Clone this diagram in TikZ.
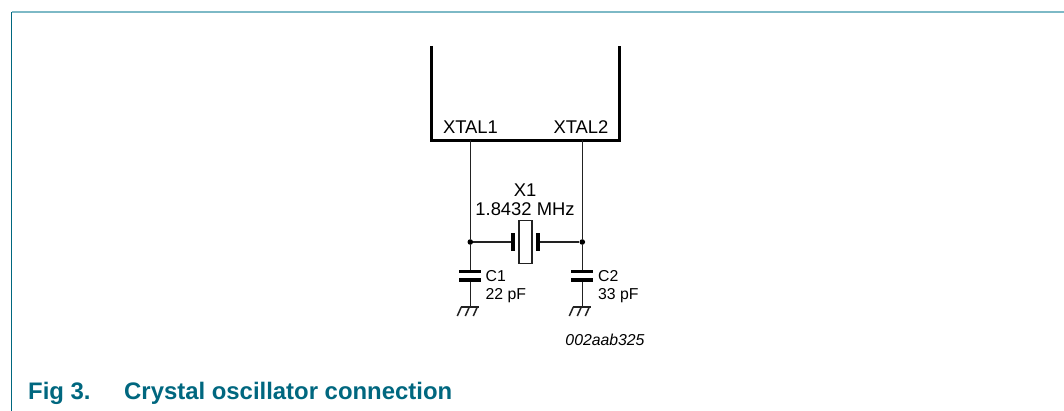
\documentclass[tikz,border=0pt]{standalone}
\usepackage{fontspec}
\setmainfont{Liberation Sans}
\usepackage{tikz}
\usetikzlibrary{positioning}
\usetikzlibrary{calc}
\definecolor{figteal}{HTML}{00677F}
\definecolor{figtop}{HTML}{7DB9C6}
\definecolor{wirecol}{HTML}{222222}
\tikzset{
  wire/.style={draw=wirecol, line width=1.5pt},
  dot/.style={circle, fill=black, inner sep=0pt, minimum size=5.6pt},
  plate/.style={rectangle, fill=black, inner sep=0pt, minimum width=4pt, minimum height=18pt},
  capplate/.style={rectangle, fill=black, inner sep=0pt, minimum width=22pt, minimum height=3.4pt},
  pin/.style={font=\fontsize{18.4}{18.5}\selectfont, inner sep=0pt},
  small/.style={font=\fontsize{15.8}{18.5}\selectfont, inner sep=0pt, align=left, anchor=west},
}
\begin{document}
\begin{tikzpicture}[x=1pt, y=-1pt]
  \useasboundingbox (0,0) rectangle (1064,411);

  % frame
  \coordinate (fl) at (11.5,12.5);
  \coordinate (fb) at (11.5,411);
  \coordinate (fr) at (1064,12.5);
  \draw[figtop, line width=2pt] (fl) -- (fr);
  \draw[figteal, line width=1.6pt] (fl) -- (fb);

  % chip outline
  \coordinate (tl) at (431.5,46);
  \coordinate (bl) at (431.5,140.5);
  \coordinate (br) at (619.5,140.5);
  \coordinate (tr) at (619.5,46);
  \draw[black, line width=2.4pt] (tl) -- (bl) -- (br) -- (tr);

  \coordinate (p1) at (470.3,140.5);
  \coordinate (p2) at (582.3,140.5);
  \node[pin] (xtal1) at (470.5,127.5) {XTAL1};
  \node[pin] (xtal2) at (581,127.5) {XTAL2};

  % crystal
  \node[dot] (j1) at (470.3,242) {};
  \node[dot] (j2) at (582.3,242) {};
  \node[draw, rectangle, wirecol, line width=1.2pt, inner sep=0pt, minimum width=13pt, minimum height=43pt] (x1) at (525.5,242) {};
  \node[plate] (pl) at (513,242) {};
  \node[plate] (pr) at (538,242) {};
  \node[pin, align=center, below=0pt] (x1lab) at (525,184) {X1\\1.8432 MHz};

  % capacitors
  \node[capplate] (c1a) at (470.3,271.5) {};
  \node[capplate] (c1b) at (470.3,280) {};
  \node[capplate] (c2a) at (582.3,271.5) {};
  \node[capplate] (c2b) at (582.3,280) {};
  \node[small] (c1lab) at (485.5,286.5) {C1\\22 pF};
  \node[small] (c2lab) at (598,286.5) {C2\\33 pF};

  % grounds
  \coordinate (g1) at (470.3,307);
  \coordinate (g2) at (582.3,307);
  \path[wire] (p1) edge (j1);
  \path[wire] (p2) edge (j2);
  \path[wire] (j1) edge (pl);
  \path[wire] (j2) edge (pr);
  \path[wire] (j1) edge (c1a);
  \path[wire] (j2) edge (c2a);
  \path[wire] (c1b) edge (g1);
  \path[wire] (c2b) edge (g2);
  \draw[wire] ($(g1)+(-9,0)$) -- ($(g1)+(9,0)$);
  \draw[wire] ($(g2)+(-9,0)$) -- ($(g2)+(9,0)$);
  \draw[wire] ($(g1)+(-9,0)$) -- ($(g1)+(-13,9)$);
  \draw[wire] ($(g1)+(-1,0)$) -- ($(g1)+(-5,9)$);
  \draw[wire] ($(g1)+(7,0)$) -- ($(g1)+(3,9)$);
  \draw[wire] ($(g2)+(-9,0)$) -- ($(g2)+(-13,9)$);
  \draw[wire] ($(g2)+(-1,0)$) -- ($(g2)+(-5,9)$);
  \draw[wire] ($(g2)+(7,0)$) -- ($(g2)+(3,9)$);

  \node[inner sep=0pt, font=\fontsize{15.8}{16}\selectfont\itshape] (code) at (605,340) {002aab325};

  % caption
  \node[anchor=west, inner sep=0pt, text=figteal, font=\fontsize{23.9}{26}\selectfont\bfseries] (fignum) at (28,393.5) {Fig 3.};
  \node[anchor=west, inner sep=0pt, text=figteal, font=\fontsize{23.9}{26}\selectfont\bfseries] (figtitle) at (124,393.5) {Crystal oscillator connection};
\end{tikzpicture}
\end{document}
